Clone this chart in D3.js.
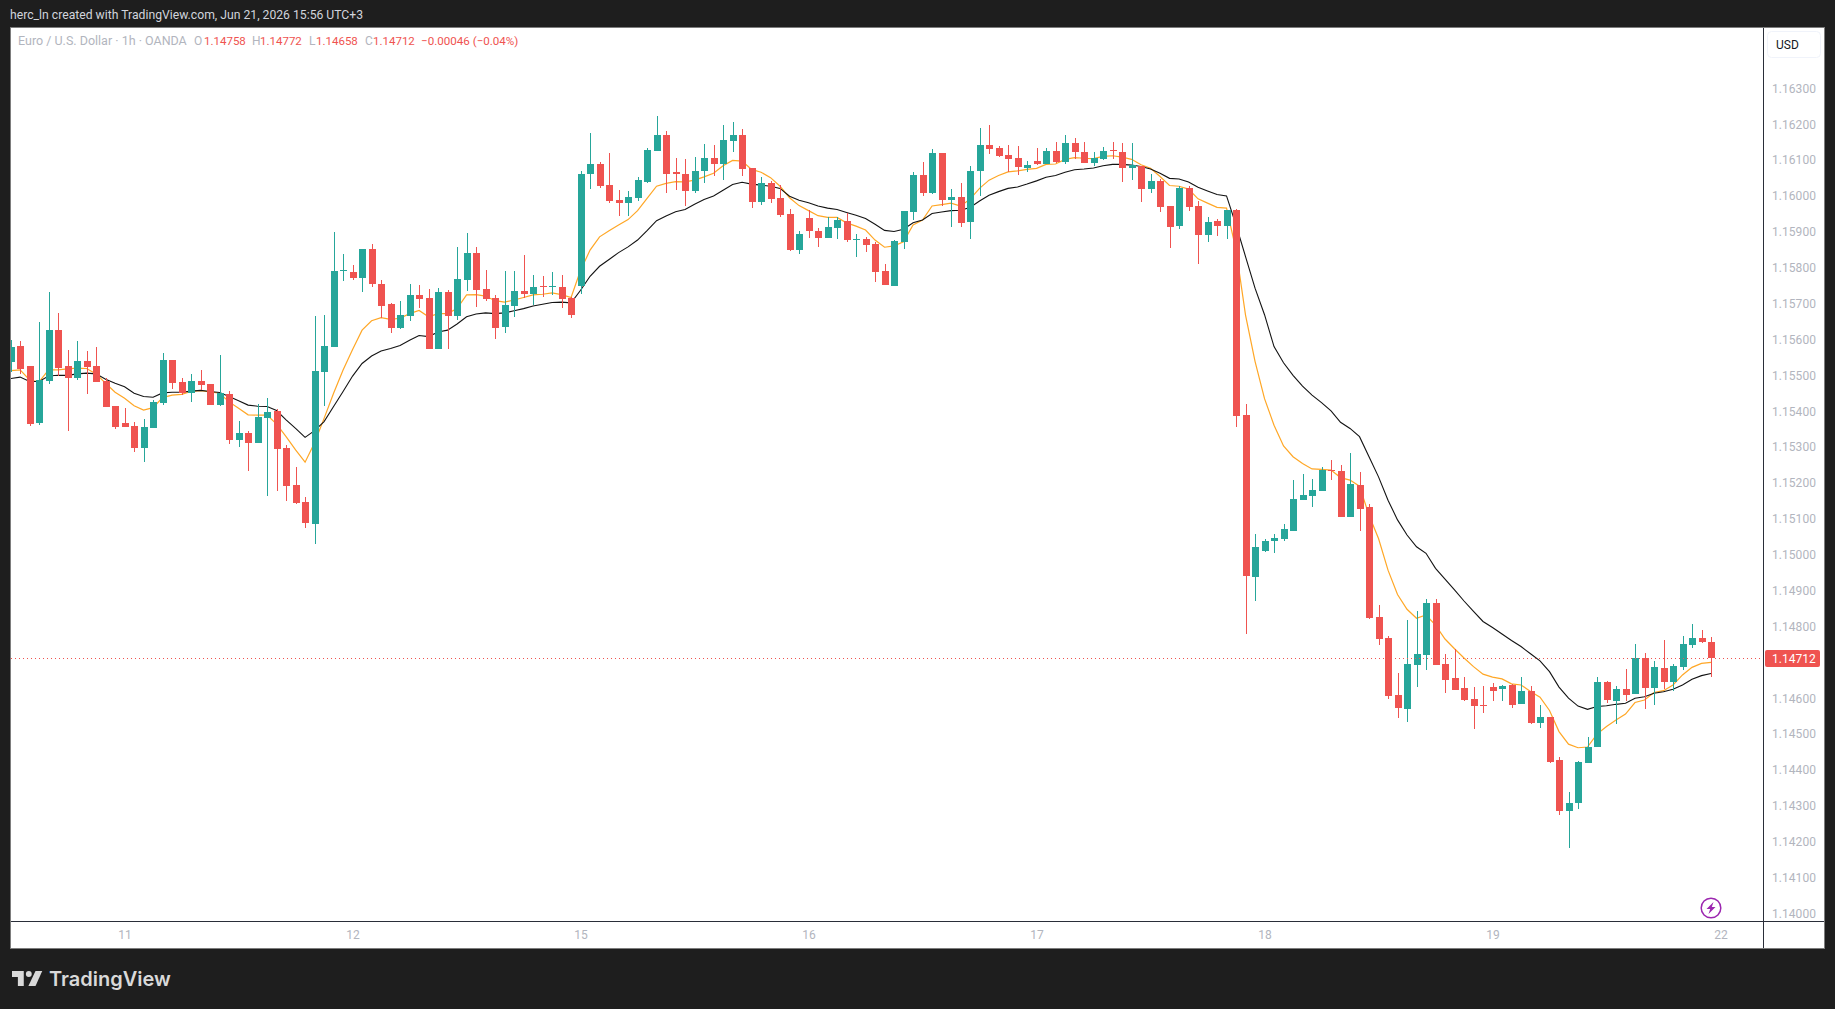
<!DOCTYPE html>
<html>
<head>
<meta charset="utf-8">
<title>EUR/USD 1h</title>
<script src="https://cdn.jsdelivr.net/npm/d3@7"></script>
<style>
  html, body { margin: 0; padding: 0; background: #1e1e1e; }
  svg { display: block; }
  text { font-family: Roboto, "Liberation Sans", sans-serif; }
</style>
</head>
<body>
<svg id="chart" width="1835" height="1009"></svg>
<script>
// Hourly EUR/USD candles, oldest first.
const opens = [
1.15537,1.15582,1.15526,1.15367,1.15484,1.15626,1.15526,1.15493,1.15540,1.15526,
1.15484,1.15415,1.15367,1.15359,1.15298,1.15353,1.15423,1.15543,1.15482,1.15451,
1.15484,1.15476,1.15417,1.15448,1.15320,1.15339,1.15311,1.15381,1.15401,1.15298,
1.15194,1.15147,1.15086,1.15509,1.15579,1.15792,1.15788,1.15771,1.15852,1.15754,
1.15698,1.15632,1.15665,1.15724,1.15715,1.15574,1.15732,1.15665,1.15765,1.15841,
1.15740,1.15715,1.15634,1.15693,1.15735,1.15726,1.15749,1.15747,1.15746,1.15715,
1.15749,1.16061,1.16089,1.16030,1.15988,1.15980,1.15994,1.16038,1.16125,1.16169,
1.16066,1.16061,1.16013,1.16069,1.16105,1.16089,1.16153,1.16169,1.16077,1.15983,
1.16036,1.15994,1.15949,1.15849,1.15938,1.15902,1.15882,1.15910,1.15930,1.15878,
1.15880,1.15866,1.15790,1.15749,1.15871,1.15955,1.16058,1.16008,1.16119,1.15988,
1.15997,1.15927,1.16069,1.16142,1.16133,1.16114,1.16105,1.16077,1.16097,1.16089,
1.16126,1.16095,1.16148,1.16123,1.16092,1.16103,1.16127,1.16123,1.16078,1.16084,
1.16020,1.16042,1.15972,1.15917,1.16022,1.15972,1.15891,1.15931,1.15917,1.15961,
1.15389,1.14938,1.15010,1.15038,1.15044,1.15066,1.15152,1.15163,1.15177,1.15236,
1.15233,1.15105,1.15194,1.15133,1.14826,1.14768,1.14609,1.14570,1.14693,1.14721,
1.14866,1.14696,1.14657,1.14629,1.14598,1.14582,1.14632,1.14626,1.14637,1.14584,
1.14621,1.14531,1.14548,1.14428,1.14286,1.14308,1.14420,1.14464,1.14645,1.14592,
1.14626,1.14612,1.14712,1.14629,1.14684,1.14645,1.14687,1.14748,1.14768,1.14758];

const highs = [
1.15599,1.15596,1.15526,1.15649,1.15732,1.15674,1.15571,1.15596,1.15568,1.15579,
1.15493,1.15415,1.15409,1.15370,1.15378,1.15431,1.15562,1.15543,1.15493,1.15504,
1.15515,1.15476,1.15557,1.15456,1.15373,1.15345,1.15420,1.15437,1.15406,1.15306,
1.15245,1.15161,1.15665,1.15668,1.15900,1.15838,1.15807,1.15852,1.15866,1.15765,
1.15701,1.15707,1.15754,1.15751,1.15740,1.15743,1.15737,1.15857,1.15896,1.15857,
1.15793,1.15724,1.15790,1.15790,1.15835,1.15779,1.15776,1.15788,1.15779,1.15718,
1.16069,1.16175,1.16094,1.16119,1.16016,1.16013,1.16052,1.16133,1.16222,1.16181,
1.16105,1.16103,1.16108,1.16144,1.16142,1.16197,1.16206,1.16186,1.16077,1.16052,
1.16041,1.16030,1.15963,1.15902,1.15960,1.15910,1.15941,1.15941,1.15952,1.15894,
1.15885,1.15871,1.15810,1.15877,1.15958,1.16066,1.16094,1.16130,1.16119,1.16019,
1.16036,1.16083,1.16189,1.16197,1.16139,1.16142,1.16139,1.16097,1.16133,1.16134,
1.16151,1.16170,1.16162,1.16151,1.16123,1.16137,1.16151,1.16148,1.16148,1.16084,
1.16062,1.16048,1.15972,1.16028,1.16028,1.15986,1.15942,1.15936,1.15961,1.15964,
1.15420,1.15058,1.15044,1.15058,1.15085,1.15208,1.15225,1.15211,1.15244,1.15264,
1.15250,1.15283,1.15230,1.15141,1.14860,1.14774,1.14671,1.14818,1.14843,1.14877,
1.14877,1.14724,1.14738,1.14660,1.14632,1.14634,1.14643,1.14637,1.14640,1.14660,
1.14634,1.14581,1.14548,1.14436,1.14339,1.14425,1.14492,1.14659,1.14648,1.14634,
1.14682,1.14751,1.14726,1.14704,1.14762,1.14696,1.14774,1.14807,1.14790,1.14772];

const lows = [
1.15508,1.15504,1.15359,1.15362,1.15476,1.15498,1.15345,1.15487,1.15448,1.15482,
1.15412,1.15351,1.15356,1.15286,1.15259,1.15353,1.15417,1.15462,1.15445,1.15426,
1.15459,1.15417,1.15415,1.15309,1.15300,1.15233,1.15311,1.15164,1.15178,1.15150,
1.15141,1.15075,1.15030,1.15415,1.15579,1.15763,1.15765,1.15732,1.15746,1.15659,
1.15618,1.15629,1.15651,1.15687,1.15574,1.15574,1.15574,1.15654,1.15735,1.15690,
1.15707,1.15601,1.15618,1.15662,1.15715,1.15696,1.15718,1.15724,1.15687,1.15659,
1.15726,1.16019,1.16022,1.15980,1.15944,1.15944,1.15986,1.16036,1.16125,1.16008,
1.16016,1.15972,1.16008,1.16036,1.16055,1.16044,1.16122,1.16055,1.15966,1.15974,
1.15980,1.15941,1.15846,1.15838,1.15882,1.15857,1.15882,1.15880,1.15871,1.15829,
1.15843,1.15760,1.15751,1.15749,1.15852,1.15933,1.15999,1.16005,1.15972,1.15913,
1.15913,1.15880,1.15999,1.16117,1.16108,1.16066,1.16058,1.16066,1.16086,1.16089,
1.16092,1.16089,1.16103,1.16092,1.16084,1.16101,1.16103,1.16039,1.16045,1.15983,
1.16009,1.15956,1.15855,1.15908,1.15958,1.15811,1.15872,1.15889,1.15880,1.15356,
1.14779,1.14871,1.15007,1.15005,1.15038,1.15066,1.15152,1.15133,1.15177,1.15208,
1.15105,1.15105,1.15066,1.14821,1.14748,1.14598,1.14545,1.14534,1.14632,1.14679,
1.14693,1.14615,1.14623,1.14593,1.14515,1.14559,1.14593,1.14593,1.14573,1.14584,
1.14529,1.14517,1.14420,1.14275,1.14183,1.14291,1.14420,1.14464,1.14587,1.14528,
1.14592,1.14612,1.14570,1.14581,1.14626,1.14620,1.14679,1.14740,1.14754,1.14658];

const closes = [
1.15579,1.15518,1.15364,1.15487,1.15626,1.15521,1.15493,1.15540,1.15523,1.15482,
1.15412,1.15356,1.15356,1.15298,1.15356,1.15426,1.15543,1.15479,1.15451,1.15484,
1.15473,1.15417,1.15451,1.15320,1.15339,1.15311,1.15384,1.15398,1.15295,1.15192,
1.15144,1.15089,1.15512,1.15582,1.15791,1.15794,1.15771,1.15852,1.15754,1.15693,
1.15632,1.15668,1.15724,1.15712,1.15574,1.15732,1.15665,1.15768,1.15841,1.15737,
1.15712,1.15632,1.15696,1.15735,1.15726,1.15746,1.15747,1.15749,1.15712,1.15668,
1.16061,1.16089,1.16027,1.15986,1.15980,1.15997,1.16044,1.16128,1.16169,1.16061,
1.16061,1.16013,1.16069,1.16105,1.16089,1.16156,1.16169,1.16075,1.15983,1.16036,
1.15991,1.15946,1.15849,1.15894,1.15902,1.15882,1.15913,1.15933,1.15877,1.15880,
1.15863,1.15788,1.15751,1.15874,1.15958,1.16058,1.16008,1.16119,1.15988,1.15997,
1.15924,1.16069,1.16142,1.16130,1.16111,1.16103,1.16080,1.16086,1.16089,1.16126,
1.16095,1.16148,1.16123,1.16092,1.16106,1.16126,1.16125,1.16078,1.16087,1.16020,
1.16042,1.15970,1.15914,1.16022,1.15970,1.15891,1.15928,1.15917,1.15961,1.15386,
1.14940,1.15021,1.15038,1.15046,1.15071,1.15155,1.15166,1.15180,1.15236,1.15234,
1.15105,1.15197,1.15127,1.14823,1.14765,1.14607,1.14573,1.14696,1.14724,1.14866,
1.14693,1.14651,1.14623,1.14595,1.14579,1.14580,1.14621,1.14634,1.14581,1.14621,
1.14531,1.14548,1.14422,1.14286,1.14308,1.14422,1.14464,1.14645,1.14595,1.14626,
1.14609,1.14712,1.14629,1.14687,1.14645,1.14690,1.14751,1.14768,1.14757,1.14712];

// Fast moving average overlay (orange).
const fastAverage = [
1.15513,1.15515,1.15487,1.15482,1.15515,1.15515,1.15518,1.15520,1.15519,1.15504,
1.15478,1.15453,1.15436,1.15415,1.15403,1.15410,1.15438,1.15445,1.15447,1.15455,
1.15457,1.15454,1.15450,1.15426,1.15408,1.15390,1.15389,1.15389,1.15364,1.15329,
1.15292,1.15258,1.15312,1.15380,1.15450,1.15515,1.15572,1.15626,1.15652,1.15661,
1.15656,1.15659,1.15672,1.15681,1.15663,1.15672,1.15672,1.15686,1.15724,1.15725,
1.15721,1.15708,1.15704,1.15710,1.15717,1.15724,1.15726,1.15730,1.15725,1.15717,
1.15793,1.15849,1.15886,1.15903,1.15919,1.15934,1.15959,1.15993,1.16027,1.16035,
1.16040,1.16039,1.16044,1.16053,1.16063,1.16084,1.16099,1.16097,1.16074,1.16066,
1.16051,1.16027,1.15995,1.15973,1.15959,1.15945,1.15940,1.15940,1.15925,1.15916,
1.15905,1.15877,1.15857,1.15861,1.15872,1.15919,1.15933,1.15972,1.15976,1.15980,
1.15972,1.15991,1.16021,1.16044,1.16057,1.16067,1.16070,1.16074,1.16077,1.16088,
1.16089,1.16102,1.16107,1.16105,1.16104,1.16110,1.16112,1.16108,1.16102,1.16087,
1.16077,1.16054,1.16029,1.16027,1.16019,1.15992,1.15980,1.15968,1.15966,1.15850,
1.15668,1.15539,1.15435,1.15361,1.15303,1.15273,1.15254,1.15239,1.15238,1.15236,
1.15215,1.15208,1.15191,1.15110,1.15045,1.14957,1.14889,1.14848,1.14823,1.14832,
1.14804,1.14765,1.14738,1.14712,1.14688,1.14667,1.14659,1.14654,1.14640,1.14637,
1.14619,1.14603,1.14566,1.14507,1.14472,1.14462,1.14464,1.14500,1.14521,1.14539,
1.14556,1.14588,1.14595,1.14616,1.14621,1.14637,1.14665,1.14686,1.14697,1.14700];

// Slow moving average overlay (black).
const slowAverage = [
1.15491,1.15495,1.15483,1.15483,1.15498,1.15500,1.15500,1.15504,1.15506,1.15504,
1.15489,1.15478,1.15468,1.15450,1.15441,1.15439,1.15451,1.15453,1.15453,1.15456,
1.15458,1.15455,1.15452,1.15441,1.15429,1.15417,1.15414,1.15413,1.15402,1.15376,
1.15352,1.15327,1.15346,1.15371,1.15413,1.15455,1.15498,1.15533,1.15554,1.15568,
1.15575,1.15583,1.15598,1.15611,1.15608,1.15621,1.15626,1.15643,1.15663,1.15671,
1.15674,1.15672,1.15674,1.15680,1.15686,1.15693,1.15698,1.15703,1.15704,1.15702,
1.15737,1.15776,1.15804,1.15823,1.15842,1.15858,1.15877,1.15903,1.15931,1.15944,
1.15956,1.15962,1.15977,1.15990,1.16000,1.16016,1.16032,1.16038,1.16033,1.16030,
1.16027,1.16021,1.15999,1.15988,1.15981,1.15972,1.15966,1.15962,1.15954,1.15946,
1.15937,1.15921,1.15904,1.15901,1.15907,1.15925,1.15933,1.15951,1.15955,1.15959,
1.15960,1.15968,1.15986,1.16002,1.16012,1.16021,1.16025,1.16033,1.16042,1.16052,
1.16057,1.16066,1.16073,1.16075,1.16078,1.16084,1.16088,1.16088,1.16086,1.16082,
1.16075,1.16063,1.16049,1.16047,1.16039,1.16024,1.16014,1.16004,1.16000,1.15919,
1.15831,1.15743,1.15669,1.15580,1.15535,1.15500,1.15470,1.15445,1.15424,1.15401,
1.15369,1.15352,1.15329,1.15273,1.15217,1.15152,1.15097,1.15055,1.15022,1.15004,
1.14962,1.14932,1.14902,1.14871,1.14842,1.14814,1.14797,1.14779,1.14761,1.14744,
1.14724,1.14704,1.14674,1.14631,1.14600,1.14578,1.14569,1.14577,1.14579,1.14583,
1.14586,1.14600,1.14604,1.14614,1.14618,1.14625,1.14637,1.14653,1.14663,1.14669];

// Axis labels. The 1.14700 level sits under the last-price tag and gets no label.
const priceTicks = [1.14,1.141,1.142,1.143,1.144,1.145,1.146,1.148,1.149,1.15,1.151,1.152,
                    1.153,1.154,1.155,1.156,1.157,1.158,1.159,1.16,1.161,1.162,1.163];
const dayTickBars = [12, 36, 60, 84, 108, 132, 156, 180];
const dayTickLabels = ["11", "12", "15", "16", "17", "18", "19", "22"];

const lastPrice = closes[closes.length - 1];
const GREEN = "#26a69a", RED = "#ef5350";

const svg = d3.select("#chart");

// Plot frame.
const frame = { left: 11, top: 28, right: 1824, bottom: 948, priceAxis: 1763, timeAxis: 921 };

svg.append("rect")
  .attr("x", frame.left - 0.5).attr("y", frame.top - 0.5)
  .attr("width", frame.right - frame.left + 1).attr("height", frame.bottom - frame.top + 1)
  .attr("fill", "#ffffff").attr("stroke", "#7d7d7d");

svg.append("defs").append("clipPath").attr("id", "plot-clip").append("rect")
  .attr("x", frame.left).attr("y", frame.top)
  .attr("width", frame.priceAxis - frame.left).attr("height", frame.timeAxis - frame.top);

const x = d3.scaleLinear().domain([0, 179]).range([10.6, 1711]);
const y = d3.scaleLinear().domain([1.14, 1.163]).range([913.5, 88.3]);

const plot = svg.append("g").attr("clip-path", "url(#plot-clip)");

// Overlays sit underneath the candles.
const averageLine = d3.line().x((d, i) => x(i)).y(d => y(d));
plot.append("path").datum(fastAverage).attr("d", averageLine)
  .attr("fill", "none").attr("stroke", "#ffa726").attr("stroke-width", 1.2);
plot.append("path").datum(slowAverage).attr("d", averageLine)
  .attr("fill", "none").attr("stroke", "#131313").attr("stroke-width", 1.1);

// Candles.
const bars = d3.range(closes.length).map(i => ({
  i, open: opens[i], high: highs[i], low: lows[i], close: closes[i]
}));
const candle = plot.append("g").attr("shape-rendering", "crispEdges")
  .selectAll("g").data(bars).join("g")
  .attr("fill", d => d.close >= d.open ? GREEN : RED);

candle.append("rect")
  .attr("x", d => Math.round(x(d.i)))
  .attr("width", 1)
  .attr("y", d => Math.round(y(d.high)))
  .attr("height", d => Math.max(1, Math.round(y(d.low)) - Math.round(y(d.high))));

candle.append("rect")
  .attr("x", d => Math.round(x(d.i)) - 3)
  .attr("width", 7)
  .attr("y", d => Math.round(y(Math.max(d.open, d.close))))
  .attr("height", d => Math.max(1, Math.round(y(Math.min(d.open, d.close))) - Math.round(y(Math.max(d.open, d.close)))));

// Dotted last-price line.
plot.append("line")
  .attr("x1", frame.left).attr("x2", frame.priceAxis)
  .attr("y1", Math.round(y(lastPrice)) + 0.5).attr("y2", Math.round(y(lastPrice)) + 0.5)
  .attr("stroke", RED).attr("stroke-width", 1).attr("stroke-dasharray", "1 3");

// Price scale.
const priceAxis = d3.axisRight(y).tickValues(priceTicks).tickFormat(d3.format(".5f")).tickSize(0).tickPadding(9);
svg.append("g").attr("transform", `translate(${frame.priceAxis},0)`).call(priceAxis)
  .call(g => g.select(".domain").remove())
  .selectAll("text").attr("fill", "#b2b5be").attr("font-size", 12)
  .style("font-family", "Roboto, sans-serif").style("letter-spacing", "0.05px");

// Time scale.
const timeAxis = d3.axisBottom(x).tickValues(dayTickBars)
  .tickFormat((d, i) => dayTickLabels[i]).tickSize(0).tickPadding(9);
svg.append("g").attr("transform", `translate(0,${frame.timeAxis})`).call(timeAxis)
  .call(g => g.select(".domain").remove())
  .selectAll("text").attr("fill", "#b2b5be").attr("font-size", 12)
  .style("font-family", "Roboto, sans-serif");

// Scale separators.
svg.append("line").attr("x1", frame.priceAxis + 0.5).attr("x2", frame.priceAxis + 0.5)
  .attr("y1", frame.top).attr("y2", frame.bottom).attr("stroke", "#2a2e39");
svg.append("line").attr("x1", frame.left).attr("x2", frame.right)
  .attr("y1", frame.timeAxis + 0.5).attr("y2", frame.timeAxis + 0.5).attr("stroke", "#2a2e39");

// Last-price tag on the scale.
const lastY = Math.round(y(lastPrice));
svg.append("rect").attr("x", 1765).attr("y", lastY - 8).attr("width", 55).attr("height", 17)
  .attr("rx", 2).attr("fill", RED);
svg.append("text").attr("x", 1772).attr("y", lastY + 4.5).attr("fill", "#ffffff")
  .attr("font-size", 12).text(d3.format(".5f")(lastPrice));

// Currency button.
svg.append("rect").attr("x", 1767.5).attr("y", 31.5).attr("width", 53).attr("height", 26)
  .attr("rx", 4).attr("fill", "#ffffff").attr("stroke", "#f0f3fa");
svg.append("text").attr("x", 1776).attr("y", 48.5).attr("fill", "#131722")
  .attr("font-size", 12).text("USD");

// Title strip above the plot.
svg.append("text").attr("x", 10).attr("y", 18.5).attr("fill", "#d1d4dc")
  .attr("font-size", 12.2).text("herc_ln created with TradingView.com, Jun 21, 2026 15:56 UTC+3");

// Symbol legend: wider label segments, tighter value segments.
const legendY = 45;
const gray = "#b2b5be";
const legendParts = [
  [18, "Euro / U.S. Dollar · 1h · OANDA", gray, 12.5],
  [194, "O", gray, 12], [204, d3.format(".5f")(opens[179]), RED, 11.5],
  [252, "H", gray, 12], [260, d3.format(".5f")(highs[179]), RED, 11.5],
  [309, "L", gray, 12], [316, d3.format(".5f")(lows[179]), RED, 11.5],
  [365, "C", gray, 12], [373, d3.format(".5f")(closes[179]), RED, 11.5],
  [421, "−0.00046 (−0.04%)", RED, 11.6]
];
svg.append("g").selectAll("text").data(legendParts).join("text")
  .attr("x", d => d[0]).attr("y", legendY).attr("fill", d => d[2])
  .attr("font-size", d => d[3]).text(d => d[1]);

// Indicator badge near the bottom of the plot.
const badge = svg.append("g").attr("transform", "translate(1711,908)");
badge.append("circle").attr("r", 9.8).attr("fill", "#ffffff").attr("stroke", "#9c27b0").attr("stroke-width", 1.5);
badge.append("path").attr("d", "M2.5,-6 L-4.5,1 L-0.8,1 L-2.5,6 L4.5,-1 L0.8,-1 Z").attr("fill", "#9c27b0");

// TradingView wordmark in the footer.
const logo = svg.append("g").attr("transform", "translate(12,971) scale(0.84)").attr("fill", "#d9d9d9");
logo.append("path").attr("d", "M14 0H0v7h7v11h7V0Z");
logo.append("circle").attr("cx", 20).attr("cy", 3.5).attr("r", 3.5);
logo.append("path").attr("d", "M28 0h8l-8 18h-8.5L28 0Z");
svg.append("text").attr("x", 49).attr("y", 986).attr("fill", "#d9d9d9")
  .attr("font-size", 20).attr("font-weight", 600).style("font-family", "Inter, Roboto, sans-serif")
  .text("TradingView");
</script>
</body>
</html>
